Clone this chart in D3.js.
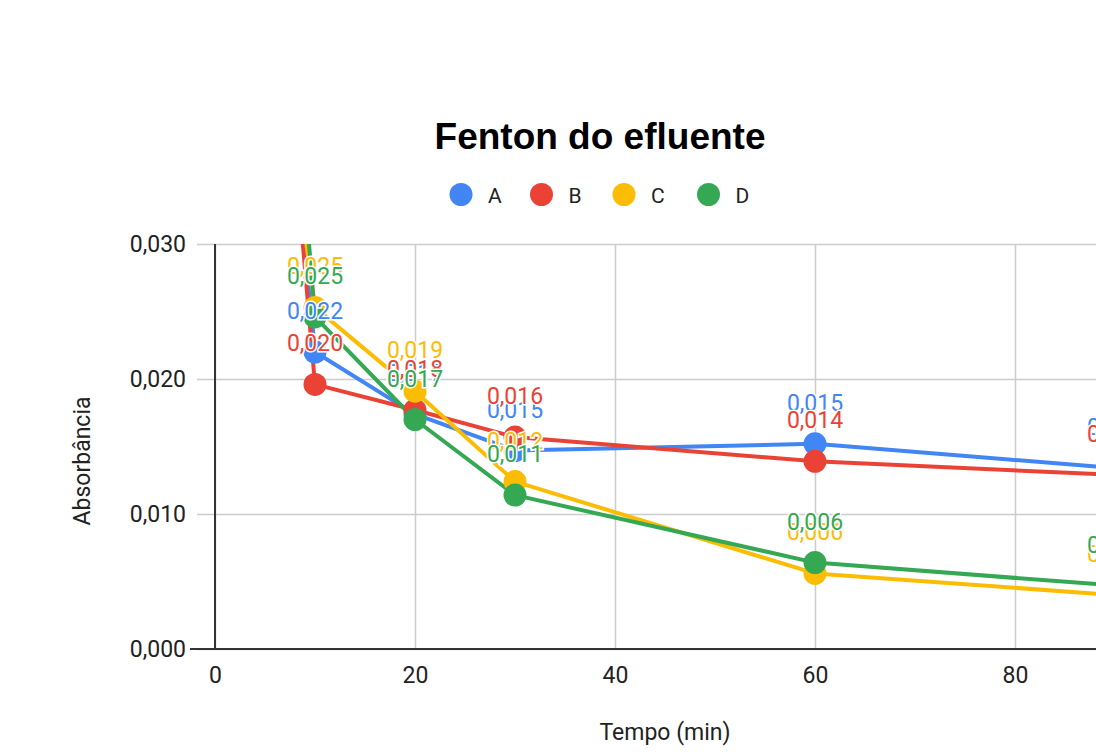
<!DOCTYPE html>
<html><head><meta charset="utf-8">
<script src="https://cdn.jsdelivr.net/npm/d3@7"></script>
<style>html,body{margin:0;padding:0;background:#fff;overflow:hidden}</style>
</head><body><svg id="c" width="1096" height="756"></svg>
<script>
const times = [0, 10, 20, 30, 60, 90];
const seriesNames = ["A", "B", "C", "D"];
const valuesA = [0.100, 0.0220, 0.0174, 0.0147, 0.0152, 0.0134];
const valuesB = [0.105, 0.0196, 0.0177, 0.0157, 0.0139, 0.0129];
const valuesC = [0.080, 0.0253, 0.0191, 0.0124, 0.0056, 0.0040];
const valuesD = [0.115, 0.0246, 0.0170, 0.0114, 0.0064, 0.0047];
const seriesColors = ["#4285F4", "#EA4335", "#FBBC04", "#34A853"];
const xTickValues = [0, 20, 40, 60, 80];
const yTickValues = [0, 0.010, 0.020, 0.030];
const chartTitle = "Fenton do efluente";
const xAxisTitle = "Tempo (min)";
const yAxisTitle = "Absorbância";

const allValues = [valuesA, valuesB, valuesC, valuesD];
const series = seriesNames.map((n, i) => ({
  name: n, color: seriesColors[i],
  pts: times.map((t, j) => ({t, v: allValues[i][j]}))
}));

const svg = d3.select("#c");
const L = 215, R = 1115, T = 244, B = 649;
const x = d3.scaleLinear().domain([0, 90]).range([L, R]);
const y = d3.scaleLinear().domain([0, 0.030]).range([B, T]);
const fmt = v => d3.format(".3f")(v).replace(".", ",");
const FONT = "Roboto, 'Liberation Sans', Arial, sans-serif";

svg.append("rect").attr("width", 1096).attr("height", 756).attr("fill", "#fff");

// title
svg.append("text").attr("x", 600).attr("y", 149).attr("text-anchor", "middle")
  .attr("font-family", "'Liberation Sans', Arial, sans-serif").attr("font-weight", "bold").attr("font-size", 37)
  .attr("fill", "#000").text(chartTitle);

// legend
const legendX = [461, 541.5, 624, 708.5];
const lg = svg.append("g");
series.forEach((s, i) => {
  lg.append("circle").attr("cx", legendX[i]).attr("cy", 194.5).attr("r", 11.5).attr("fill", s.color);
  lg.append("text").attr("x", legendX[i] + 27).attr("y", 202.5)
    .attr("font-family", FONT).attr("font-size", 21).attr("fill", "#222").text(s.name);
});

// y grid + labels
const yAxis = d3.axisLeft(y).tickValues(yTickValues).tickFormat(fmt)
  .tickSize(-(R - 197)).tickSizeOuter(0).tickPadding(11);
const gy = svg.append("g").attr("transform", "translate(197,0)").call(yAxis);
gy.select(".domain").remove();
gy.selectAll(".tick line").attr("stroke", "#cccccc").attr("stroke-width", 1.5);
gy.selectAll(".tick text").attr("font-family", FONT).attr("font-size", 23).attr("fill", "#222");

// x grid + labels
const xAxis = d3.axisBottom(x).tickValues(xTickValues).tickFormat(d3.format("d"))
  .tickSize(-(B - T)).tickSizeOuter(0).tickPadding(18);
const gx = svg.append("g").attr("transform", `translate(0,${B})`).call(xAxis);
gx.select(".domain").remove();
gx.selectAll(".tick line").attr("stroke", "#cccccc").attr("stroke-width", 1.5);
gx.selectAll(".tick text").attr("font-family", FONT).attr("font-size", 23).attr("fill", "#222");

// axis lines
svg.append("line").attr("x1", L).attr("x2", L).attr("y1", T).attr("y2", B)
  .attr("stroke", "#333").attr("stroke-width", 2);
svg.append("line").attr("x1", 190).attr("x2", R).attr("y1", B).attr("y2", B)
  .attr("stroke", "#333").attr("stroke-width", 2);

// axis titles
svg.append("text").attr("x", 665).attr("y", 740).attr("text-anchor", "middle")
  .attr("font-family", FONT).attr("font-size", 23).attr("fill", "#222").text(xAxisTitle);
svg.append("text").attr("transform", "translate(90,461) rotate(-90)").attr("text-anchor", "middle")
  .attr("font-family", FONT).attr("font-size", 23).attr("fill", "#222").text(yAxisTitle);

// clip
svg.append("clipPath").attr("id", "clip").append("rect")
  .attr("x", L).attr("y", T).attr("width", R - L + 30).attr("height", B - T);

const plot = svg.append("g").attr("clip-path", "url(#clip)");
const line = d3.line().x(d => x(d.t)).y(d => y(d.v));
series.forEach(s => {
  plot.append("path").datum(s.pts).attr("d", line).attr("fill", "none")
    .attr("stroke", s.color).attr("stroke-width", 4).attr("stroke-linejoin", "round");
});
series.forEach(s => {
  plot.selectAll(null).data(s.pts).enter().append("circle")
    .attr("cx", d => x(d.t)).attr("cy", d => y(d.v)).attr("r", 11.5).attr("fill", s.color);
});

// data labels (only for points inside the visible value range)
const lab = svg.append("g");
series.forEach(s => {
  lab.selectAll(null).data(s.pts.filter(d => d.v <= y.domain()[1])).enter().append("text")
    .attr("x", d => x(d.t)).attr("y", d => y(d.v) - 33).attr("text-anchor", "middle")
    .attr("font-family", FONT).attr("font-size", 23).attr("fill", s.color)
    .attr("stroke", "#fff").attr("stroke-width", 3).attr("paint-order", "stroke")
    .text(d => fmt(d.v));
});
</script></body></html>
